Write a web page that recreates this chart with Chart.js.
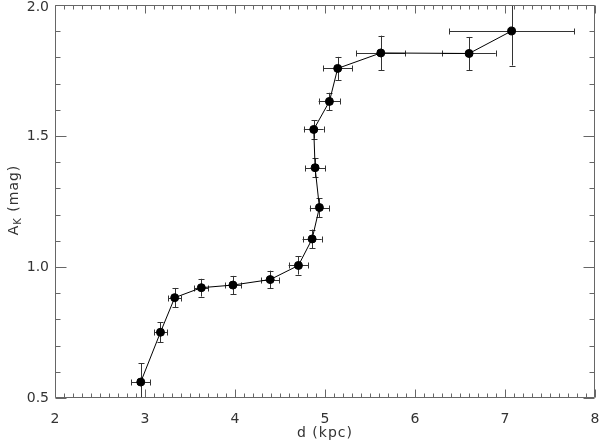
<!DOCTYPE html>
<html><head><meta charset="utf-8">
<script src="https://cdn.jsdelivr.net/npm/chart.js@4/dist/chart.umd.min.js"></script>
<style>html,body{margin:0;padding:0;background:#fff}#w{width:600px;height:445px}</style>
</head><body><div id="w"><canvas id="c" width="600" height="445"></canvas></div>
<script>
// distance d (kpc) and extinction A_K (mag) with uncertainties
const distance      = [2.953, 3.172, 3.330, 3.626, 3.977, 4.391, 4.705, 4.857, 4.938, 4.890, 4.875, 5.049, 5.141, 5.620, 6.601, 7.074];
const extinction    = [0.561, 0.751, 0.883, 0.921, 0.931, 0.952, 1.006, 1.107, 1.227, 1.379, 1.525, 1.632, 1.758, 1.817, 1.815, 1.901];
const distanceErr   = [0.105, 0.072, 0.074, 0.078, 0.090, 0.100, 0.110, 0.107, 0.107, 0.110, 0.110, 0.120, 0.160, 0.270, 0.296, 0.695];
const extinctionErr = [0.071, 0.038, 0.037, 0.034, 0.035, 0.034, 0.035, 0.036, 0.036, 0.036, 0.035, 0.033, 0.044, 0.066, 0.063, 0.132];
const xTickValues = [2, 3, 4, 5, 6, 7, 8];
const xTickLabels = ['2', '3', '4', '5', '6', '7', '8'];
const yTickValues = [0.5, 1.0, 1.5, 2.0];
const yTickLabels = ['0.5', '1.0', '1.5', '2.0'];
const xMinorStep = 0.1;
const yMinorStep = 0.1;
const xTitle = 'd (kpc)';
const yTitleMain = 'A', yTitleSub = 'K', yTitleRest = ' (mag)';

const FONT = 'DejaVu Sans';
const TEXT = '#333';
const AXIS = '#666';

const points = distance.map((d, i) => ({x: d, y: extinction[i]}));

const framePlugin = {
  id: 'frame',
  beforeDatasetsDraw(chart) {
    const {ctx, chartArea: a, scales: {x, y}} = chart;
    ctx.save();
    ctx.beginPath();
    ctx.rect(a.left, a.top, a.right - a.left, a.bottom - a.top);
    ctx.clip();
    ctx.strokeStyle = '#333';
    ctx.lineWidth = 1;
    const cap = 3;
    for (let i = 0; i < distance.length; i++) {
      const px = x.getPixelForValue(distance[i]);
      const py = y.getPixelForValue(extinction[i]);
      const x0 = x.getPixelForValue(distance[i] - distanceErr[i]);
      const x1 = x.getPixelForValue(distance[i] + distanceErr[i]);
      const y0 = y.getPixelForValue(extinction[i] - extinctionErr[i]);
      const y1 = y.getPixelForValue(extinction[i] + extinctionErr[i]);
      const cx = Math.round(px) + 0.5, cy = Math.round(py) + 0.5;
      ctx.beginPath();
      ctx.moveTo(x0, cy); ctx.lineTo(x1, cy);
      ctx.moveTo(Math.round(x0) + 0.5, cy - cap); ctx.lineTo(Math.round(x0) + 0.5, cy + cap);
      ctx.moveTo(Math.round(x1) + 0.5, cy - cap); ctx.lineTo(Math.round(x1) + 0.5, cy + cap);
      ctx.moveTo(cx, y0); ctx.lineTo(cx, y1);
      ctx.moveTo(cx - cap, Math.round(y0) + 0.5); ctx.lineTo(cx + cap, Math.round(y0) + 0.5);
      ctx.moveTo(cx - cap, Math.round(y1) + 0.5); ctx.lineTo(cx + cap, Math.round(y1) + 0.5);
      ctx.stroke();
    }
    ctx.restore();
  },
  afterDraw(chart) {
    const {ctx, chartArea: a, scales: {x, y}} = chart;
    ctx.save();
    ctx.strokeStyle = AXIS;
    ctx.lineWidth = 1;
    const L = Math.round(a.left) + 0.5, R = Math.round(a.right) - 0.5;
    const T = Math.round(a.top) + 0.5, B = Math.round(a.bottom) - 0.5;
    ctx.beginPath();
    ctx.rect(L, T, R - L, B - T);
    const xMin = x.min, xMax = x.max;
    const nx = Math.round((xMax - xMin) / xMinorStep);
    for (let k = 0; k <= nx; k++) {
      const v = xMin + k * xMinorStep;
      const major = xTickValues.some(t => Math.abs(t - v) < 1e-6);
      const len = major ? 8 : 4;
      const px = Math.round(x.getPixelForValue(v)) + 0.5;
      ctx.moveTo(px, B); ctx.lineTo(px, B - len);
      ctx.moveTo(px, T); ctx.lineTo(px, T + len);
    }
    const yMin = y.min, yMax = y.max;
    const ny = Math.round((yMax - yMin) / yMinorStep);
    for (let k = 0; k <= ny; k++) {
      const v = yMin + k * yMinorStep;
      const major = yTickValues.some(t => Math.abs(t - v) < 1e-6);
      const len = major ? 11 : 5;
      const py = Math.round(y.getPixelForValue(v)) + 0.5;
      ctx.moveTo(L, py); ctx.lineTo(L + len, py);
      ctx.moveTo(R, py); ctx.lineTo(R - len, py);
    }
    ctx.stroke();

    ctx.fillStyle = TEXT;
    ctx.font = '14px "' + FONT + '"';
    // y tick labels
    ctx.textAlign = 'right';
    ctx.textBaseline = 'middle';
    yTickValues.forEach((v, i) => {
      const py = Math.max(y.getPixelForValue(v), 7);
      ctx.fillText(yTickLabels[i], a.left - 6, py);
    });
    // titles
    ctx.textAlign = 'center';
    ctx.letterSpacing = '1px';
    ctx.fillText(xTitle, (a.left + a.right) / 2, 433);

    ctx.translate(13, 200);
    ctx.rotate(-Math.PI / 2);
    ctx.textAlign = 'left';
    ctx.textBaseline = 'alphabetic';
    const fMain = '14px "' + FONT + '"', fSub = '10px "' + FONT + '"';
    ctx.font = fMain; const w1 = ctx.measureText(yTitleMain).width;
    const w3 = ctx.measureText(yTitleRest).width;
    ctx.font = fSub; const w2 = ctx.measureText(yTitleSub).width;
    let sx = -(w1 + w2 + w3) / 2;
    const base = 5;
    ctx.font = fMain; ctx.fillText(yTitleMain, sx, base); sx += w1;
    ctx.font = fSub; ctx.fillText(yTitleSub, sx, base + 3); sx += w2;
    ctx.font = fMain; ctx.fillText(yTitleRest, sx, base);
    ctx.restore();
  }
};

new Chart(document.getElementById('c'), {
  type: 'scatter',
  data: {
    datasets: [{
      data: points,
      showLine: true,
      borderColor: '#000',
      borderWidth: 1,
      backgroundColor: '#000',
      pointBackgroundColor: '#000',
      pointBorderColor: '#000',
      pointRadius: 4,
      pointBorderWidth: 1,
      pointHoverRadius: 4,
      clip: 0
    }]
  },
  options: {
    responsive: false,
    animation: false,
    devicePixelRatio: 1,
    layout: {padding: {top: 1, right: 4, left: 0, bottom: 0}},
    plugins: {legend: {display: false}, tooltip: {enabled: false}},
    events: [],
    scales: {
      x: {
        type: 'linear', min: 2, max: 8,
        grid: {display: false, drawTicks: false}, border: {display: false},
        afterBuildTicks: s => { s.ticks = xTickValues.map(v => ({value: v})); },
        afterFit: s => { s.height = 47; s.paddingLeft = 0; s.paddingRight = 0; },
        ticks: {
          callback: (v) => xTickLabels[xTickValues.indexOf(v)],
          font: {family: FONT, size: 14}, color: TEXT, padding: 13, maxRotation: 0, autoSkip: false
        }
      },
      y: {
        type: 'linear', min: 0.5, max: 2.0,
        grid: {display: false, drawTicks: false}, border: {display: false},
        afterBuildTicks: s => { s.ticks = yTickValues.map(v => ({value: v})); },
        afterFit: s => { s.width = 55; s.paddingTop = 0; s.paddingBottom = 0; },
        ticks: {display: false}
      }
    }
  },
  plugins: [framePlugin]
});
</script>
</body></html>
